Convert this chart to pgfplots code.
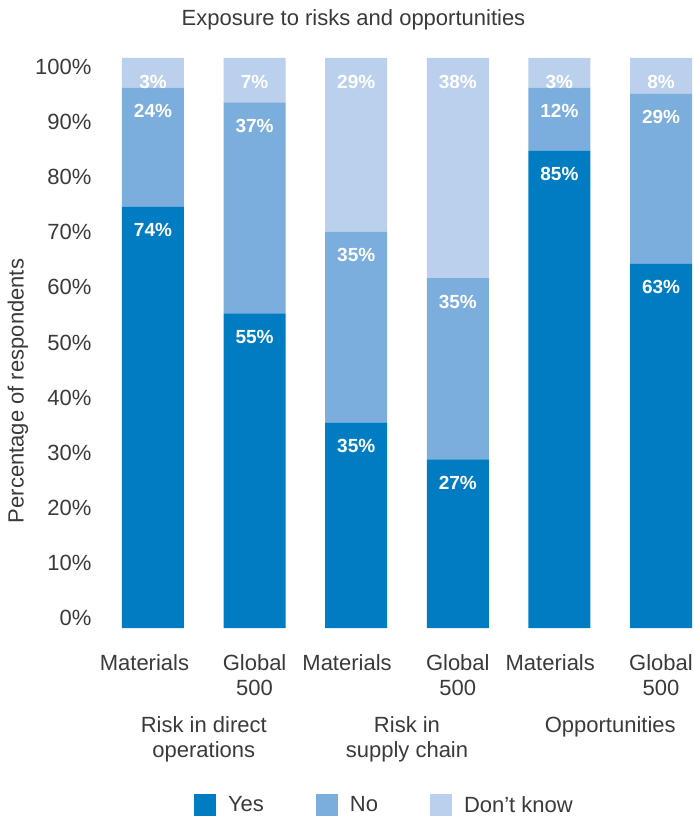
\documentclass[border=0pt]{standalone}
\usepackage{pgfplots}
\pgfplotsset{compat=1.18}
\usepackage{fontspec}
\setmainfont{Liberation Sans}
\definecolor{txt}{HTML}{3A3A3A}
\definecolor{cyes}{HTML}{007CC3}
\definecolor{cno}{HTML}{7BADDD}
\definecolor{cdk}{HTML}{BAD0EC}
\newcommand\rf{\fontsize{22bp}{24.3bp}\selectfont}
\newcommand\tl[1]{\begin{tabular}[t]{@{}c@{}}#1\end{tabular}}
\begin{document}
\begin{tikzpicture}
\path[use as bounding box] (0,0) rectangle (694bp,817bp);
\begin{axis}[
  at={(122bp,189bp)}, anchor=south west,
  scale only axis, width=570bp, height=570bp,
  xmin=-0.305, xmax=5.305, ymin=0, ymax=100,
  clip=false,
  axis line style={draw=none}, major tick length=0pt, tick style={draw=none},
  ybar stacked, bar width=62bp,
  legend image code/.code={\fill[#1,draw=none] (0bp,-11bp) rectangle (22bp,11bp);},
  ytick={1.70,11.38,21.05,30.73,40.41,50.09,59.76,69.44,79.12,88.79,98.47},
  yticklabels={0\%,10\%,20\%,30\%,40\%,50\%,60\%,70\%,80\%,90\%,100\%},
  yticklabel style={anchor=east, inner sep=0pt, xshift=-30.3bp, font=\rf, text=txt},
  xtick={-0.084,1,1.91,3,3.91,5},
  xticklabels={Materials,{\tl{Global\\500}},Materials,{\tl{Global\\500}},Materials,{\tl{Global\\500}}},
  xticklabel style={anchor=base, inner sep=0pt, yshift=-42.7bp, font=\rf, text=txt},
  extra x ticks={0.5,2.5,4.5},
  extra x tick labels={{\tl{Risk in direct\\operations}},{\tl{Risk in\\supply chain}},{\tl{Opportunities}}},
  extra x tick style={xticklabel style={yshift=-62bp}},
  ylabel={Percentage of respondents},
  ylabel style={at={([xshift=-104bp]axis description cs:0,0.4158)}, anchor=center, inner sep=0pt, font=\rf, text=txt},
  title={Exposure to risks and opportunities},
  title style={at={(axis description cs:0.4061,1)}, anchor=base, yshift=27bp, inner sep=0pt, font=\rf, text=txt},
  point meta=explicit symbolic,
  visualization depends on={rawy \as \rawy},
  nodes near coords,
  every node near coord/.append style={anchor=center, yshift={(\rawy*2.85-23.5)*1bp}, font=\fontsize{19bp}{19bp}\selectfont\bfseries, text=white},
  legend columns=-1,
  legend style={at={(axis description cs:0,0)}, anchor=north west, xshift=72bp, yshift=-166bp,
    draw=none, fill=none, inner sep=0pt, outer sep=0pt,
    nodes={inner sep=0pt, font=\rf, text=txt},
    /tikz/every odd column/.append style={column sep=12bp},
    /tikz/every even column/.append style={column sep=52bp}},
]
\addplot[fill=cyes, draw=none] coordinates {(0,73.9)[74\%] (1,55.2)[55\%] (2,36.0)[35\%] (3,29.6)[27\%] (4,83.7)[85\%] (5,63.9)[63\%]};
\addplot[fill=cno, draw=none] coordinates {(0,20.9)[24\%] (1,37.0)[37\%] (2,33.5)[35\%] (3,31.8)[35\%] (4,11.1)[12\%] (5,29.8)[29\%]};
\addplot[fill=cdk, draw=none] coordinates {(0,5.2)[3\%] (1,7.8)[7\%] (2,30.5)[29\%] (3,38.6)[38\%] (4,5.2)[3\%] (5,6.3)[8\%]};
\legend{Yes,No,Don’t know}
\end{axis}
\end{tikzpicture}
\end{document}
